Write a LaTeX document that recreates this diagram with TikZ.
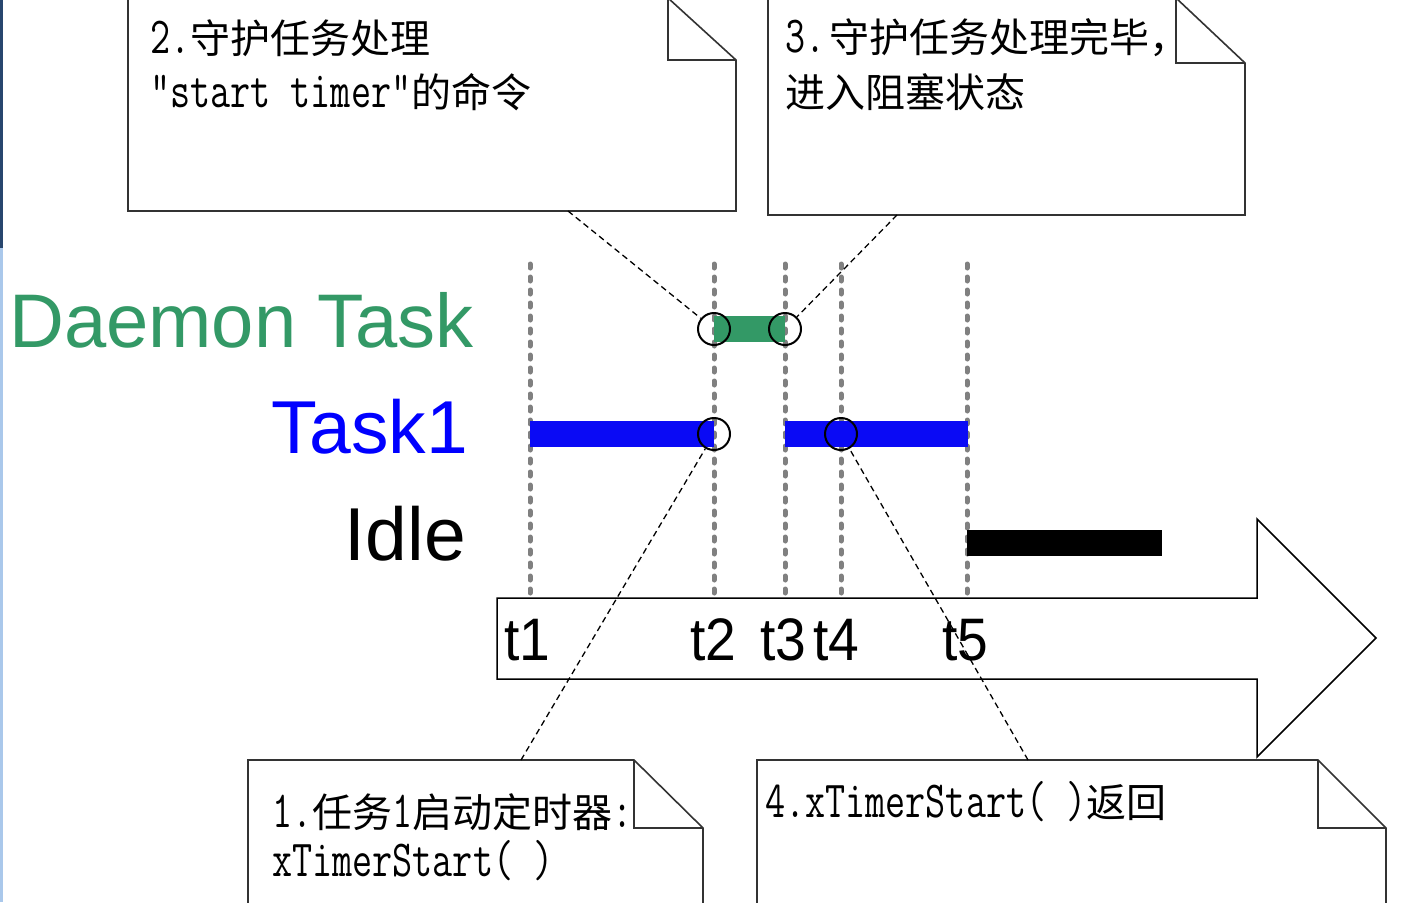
\documentclass[tikz,border=0pt]{standalone}
\usepackage{graphicx}
\usepackage{fontspec}
\setmainfont{Liberation Sans}
\newfontfamily\cjk{Noto Sans CJK SC}
\newcommand{\mm}[1]{\scalebox{0.75}[1]{\ttfamily\fontsize{52}{52}\selectfont #1}}
\definecolor{dgreen}{RGB}{51,153,102}
\definecolor{tblue}{RGB}{10,10,245}
\definecolor{stripdark}{RGB}{40,70,110}
\definecolor{striplight}{RGB}{170,200,235}
\begin{document}
\begin{tikzpicture}[x=1pt,y=-1pt,
  notebox/.style={draw=black!80,line width=1.6pt,fill=white,line join=miter},
  notetext/.style={anchor=base west,inner sep=0pt,font=\cjk\fontsize{40}{40}\selectfont},
  grid/.style={draw=black!50,line width=5pt,dash pattern=on 4pt off 9pt,line cap=round},
  ring/.style={circle,draw=black,line width=2pt,minimum size=32pt,inner sep=0pt},
  link/.style={draw=black,line width=1.3pt,dash pattern=on 6pt off 4pt},
  lab/.style={anchor=base east,inner sep=0pt,font=\fontsize{75}{75}\selectfont},
  tick/.style={anchor=base west,inner sep=0pt,font=\fontsize{60}{60}\selectfont,xscale=0.92}]
\useasboundingbox (0,0) rectangle (1404,902);
\fill[white] (0,0) rectangle (1404,902);
% screenshot edge strip
\fill[striplight] (0,0) rectangle (3,902);
\fill[stripdark] (0,0) rectangle (3,248);

% notes
\path[notebox] (128,-2) -- (668,-2) -- (736,60) -- (736,211) -- (128,211) -- cycle;
\draw[black!80,line width=1.6pt] (668,-2) -- (668,60) -- (736,60);
\path[notebox] (768,-2) -- (1176,-2) -- (1245,63) -- (1245,215) -- (768,215) -- cycle;
\draw[black!80,line width=1.6pt] (1176,-2) -- (1176,63) -- (1245,63);
\path[notebox] (248,910) -- (248,760) -- (634,760) -- (703,828) -- (703,910);
\draw[black!80,line width=1.6pt] (634,760) -- (634,828) -- (703,828);
\path[notebox] (757,910) -- (757,760) -- (1318,760) -- (1386,828) -- (1386,910);
\draw[black!80,line width=1.6pt] (1318,760) -- (1318,828) -- (1386,828);

% note texts
\node[notetext] (n2a) at (150,53) {\mm{2.}守护任务处理};
\node[notetext] (n2b) at (150,107) {\mm{"start timer"}的命令};
\node[notetext] (n3a) at (785,52) {\mm{3.}\kern4pt 守护任务处理完毕，};
\node[notetext] (n3b) at (785,107) {进入阻塞状态};
\node[notetext] (n1a) at (272,827) {\mm{1.}任务\mm{1}启动定时器\mm{:}};
\node[notetext] (n1b) at (272,876) {\mm{xTimerStart( )}};
\node[notetext] (n4a) at (765,817) {\mm{4.xTimerStart( )}返回};

% vertical time lines
\foreach \x in {530,714,785,841,967}
  \draw[grid] (\x,264) -- (\x,594);

% bars
\fill[dgreen] (714,316) rectangle (785,342);
\fill[tblue] (530,421) rectangle (714,447);
\fill[tblue] (785,421) rectangle (968,447);
\fill[black] (967,530) rectangle (1162,556);

% rings
\node[ring] (c2g) at (714,329) {};
\node[ring] (c3g) at (785,329) {};
\node[ring] (c2b) at (714,434) {};
\node[ring] (c4b) at (841,434) {};

% labels
\node[lab,text=dgreen,font=\fontsize{76}{76}\selectfont] (ldaemon) at (474,347) {Daemon Task};
\node[lab,text=blue] (ltask) at (468,453) {Task1};
\node[lab,text=black] (lidle) at (466,560) {Idle};

% time arrow
\path[draw=black,line width=1.5pt,fill=white,line join=miter]
  (497,598) -- (1257,598) -- (1257,519) -- (1376,638) -- (1257,757) -- (1257,679) -- (497,679) -- cycle;
\node[tick] (t1) at (504,660) {t1};
\node[tick] (t2) at (690,660) {t2};
\node[tick] (t3) at (760,660) {t3};
\node[tick] (t4) at (813,660) {t4};
\node[tick] (t5) at (942,660) {t5};

% connectors
\coordinate (p2) at (568,211);
\coordinate (p3) at (897,215);
\coordinate (p1) at (521,760);
\coordinate (p4) at (1028,760);
\draw[link] (p2) -- (c2g);
\draw[link] (p3) -- (c3g);
\draw[link] (p1) -- (c2b);
\draw[link] (p4) -- (c4b);
\end{tikzpicture}
\end{document}
